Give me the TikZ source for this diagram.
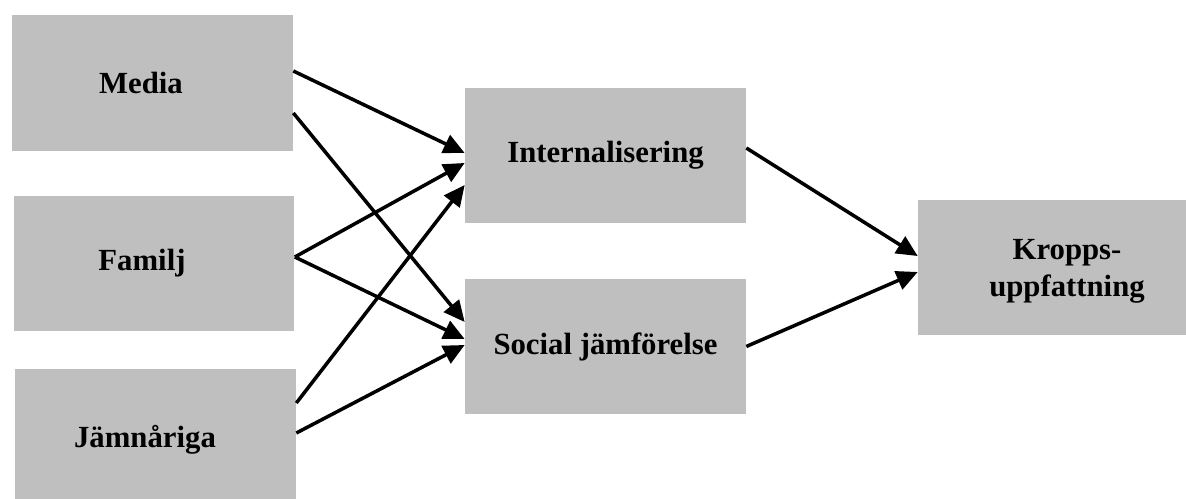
\documentclass[tikz,border=0pt]{standalone}
\usepackage{fontspec}
\setmainfont{Liberation Serif}
\usetikzlibrary{arrows.meta}
\definecolor{boxgray}{RGB}{191,191,191}

\begin{document}
\begin{tikzpicture}[x=0.02cm, y=-0.02cm,
	box/.style={fill=boxgray, minimum width=5.62cm, minimum height=2.72cm, inner sep=0pt},
	txt/.style={font=\fontsize{17.5}{21}\selectfont\bfseries, align=center},
	link/.style={line width=2pt, -{Triangle[length=12pt,width=11pt]}}]
	\useasboundingbox (0,0) rectangle (1186,499);
	% sources
	\node[box, label={[txt,xshift=-0.23cm]center:Media}] (media) at (152.5,83) {};
	\node[box, label={[txt,xshift=-0.24cm]center:Familj}] (familj) at (154,263.5) {};
	\node[box, label={[txt,xshift=-0.21cm,yshift=-0.06cm]center:Jämnåriga}] (jamn) at (155.5,437) {};
	% mediators
	\node[box, txt] (intern) at (605.5,155.5) {Internalisering};
	\node[box, txt] (social) at (605.5,346.5) {Social jämförelse};
	% outcome
	\node[box, minimum width=5.96cm, label={[txt,yshift=-0.08cm]center:Kropps-\\uppfattning}] (kropp) at (1067,267.5) {};
	% paths
	\draw[link] ([yshift=0.24cm]media.east) -- ([yshift=0.05cm]intern.west);
	\draw[link] ([yshift=-0.60cm]media.east) -- ([yshift=0.49cm]social.west);
	\draw[link] ([yshift=0.13cm]familj.east) -- ([yshift=-0.15cm]intern.west);
	\draw[link] ([yshift=0.13cm]familj.east) -- ([yshift=0.15cm]social.west);
	\draw[link] ([yshift=0.68cm]jamn.east) -- ([yshift=-0.59cm]intern.west);
	\draw[link] ([yshift=0.08cm]jamn.east) -- ([yshift=0.03cm]social.west);
	\draw[link] ([yshift=0.15cm]intern.east) -- ([yshift=0.23cm]kropp.west);
	\draw[link] (social.east) -- ([yshift=-0.09cm]kropp.west);
\end{tikzpicture}
\end{document}
